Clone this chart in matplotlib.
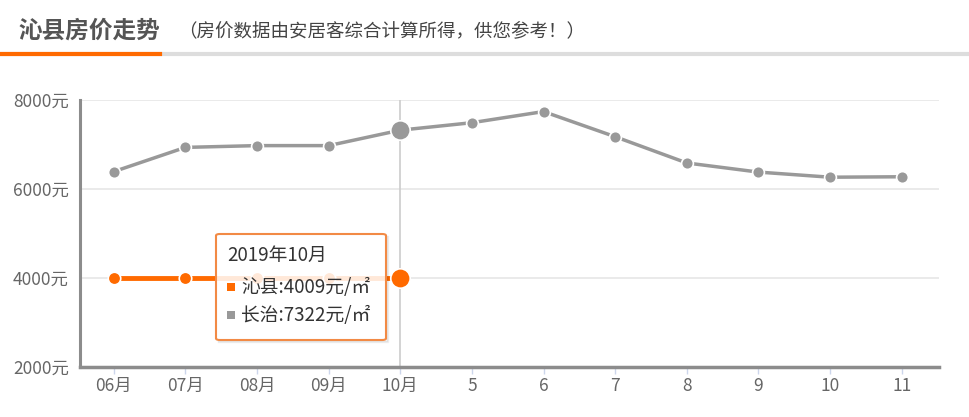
import matplotlib
matplotlib.use("Agg")
import matplotlib.pyplot as plt
from matplotlib.patches import FancyBboxPatch, Rectangle
from matplotlib.lines import Line2D

plt.rcParams['font.family'] = ['Noto Sans CJK SC', 'DejaVu Sans']

# ---- data ----
categories = ["06月", "07月", "08月", "09月", "10月", "5", "6", "7", "8", "9", "10", "11"]
qinxian = [4009, 4009, 4009, 4009, 4009, None, None, None, None, None, None, None]
changzhi = [6390, 6935, 6975, 6975, 7322, 7490, 7740, 7175, 6585, 6380, 6265, 6275]
y_ticks = [2000, 4000, 6000, 8000]
y_tick_labels = ["2000元", "4000元", "6000元", "8000元"]
title = "沁县房价走势"
subtitle = "（房价数据由安居客综合计算所得，供您参考！）"
tooltip_title = "2019年10月"
tooltip_rows = ["沁县:4009元/㎡", "长治:7322元/㎡"]
hover_index = 4

W, H = 970, 417
fig = plt.figure(figsize=(W / 100, H / 100), dpi=100)
fig.patch.set_facecolor("white")


def fx(x):
    return x / W


def fy(y):
    return 1 - y / H


ORANGE = "#ff6a00"
GRAY = "#999999"

ax = fig.add_axes([fx(80), fy(367), fx(939) - fx(80), fy(100) - fy(367)])
ax.set_facecolor("white")
ax.set_xlim(-0.47, 11.52)
ax.set_ylim(2000, 8000)

xs = list(range(len(categories)))

# grid
for v in y_ticks[1:]:
    ax.axhline(v, color="#e6e6e6", lw=1.2, zorder=0)

# crosshair
ax.axvline(hover_index, color="#cccccc", lw=1.2, zorder=1)

# series
ax.plot(xs, changzhi, color=GRAY, lw=2.5, marker="o", ms=8.5, mfc=GRAY, mec="white", mew=1.2, zorder=3)
qx = [(x, v) for x, v in zip(xs, qinxian) if v is not None]
ax.plot([p[0] for p in qx], [p[1] for p in qx], color=ORANGE, lw=3.5, marker="o", ms=9, mfc=ORANGE, mec="white", mew=1.2, zorder=4)

# hover markers
ax.plot([hover_index], [changzhi[hover_index]], marker="o", ms=14, color=GRAY, mec="white", mew=1.2, zorder=5)
ax.plot([hover_index], [qinxian[hover_index]], marker="o", ms=14, color=ORANGE, mec="white", mew=1.2, zorder=5)

# axes styling
for s in ["top", "right"]:
    ax.spines[s].set_visible(False)
ax.spines["left"].set_color("#8c8c8c")
ax.spines["left"].set_linewidth(2.2)
ax.spines["bottom"].set_color("#8c8c8c")
ax.spines["bottom"].set_linewidth(2.5)

ax.set_xticks(xs)
ax.set_xticklabels(categories, fontsize=12.5, color="#666666")
ax.tick_params(axis="x", length=5, width=1, color="#ccd6eb", pad=2)
ax.set_yticks(y_ticks)
ax.set_yticklabels(y_tick_labels, fontsize=12.5, color="#666666")
ax.tick_params(axis="y", length=0, pad=8)

# title
fig.text(fx(19), fy(31), title, fontsize=17, fontweight="bold", color="#555555", va="center", ha="left")
fig.text(fx(178), fy(31), subtitle, fontsize=13.3, color="#444444", va="center", ha="left")
fig.add_artist(Line2D([0, fx(970)], [fy(53.5), fy(53.5)], color="#dddddd", lw=3, transform=fig.transFigure))
fig.add_artist(Line2D([0, fx(160)], [fy(53.5), fy(53.5)], color="#ff6a00", lw=3, transform=fig.transFigure, zorder=3))

# tooltip
for k, a in [(1, 0.10), (2, 0.06)]:
    fig.add_artist(Line2D([fx(218), fx(386 + k), fx(386 + k)], [fy(340 + k), fy(340 + k), fy(236)],
                          color="black", alpha=a, lw=1, transform=fig.transFigure, zorder=5))
box = FancyBboxPatch((fx(216), fy(340)), fx(386) - fx(216), fy(234) - fy(340),
                     boxstyle="round,pad=0,rounding_size=0.004", transform=fig.transFigure,
                     facecolor=(1, 1, 1, 0.85), edgecolor="#f28a45", lw=1.5, zorder=6)
fig.add_artist(box)
fig.text(fx(227), fy(255), tooltip_title, fontsize=13.5, color="#333333", va="center", ha="left", zorder=7)
sq_colors = [ORANGE, GRAY]
for i, (row, c) in enumerate(zip(tooltip_rows, sq_colors)):
    yy = 287 + i * 28
    fig.add_artist(Rectangle((fx(227), fy(yy + 4)), fx(8), fy(0) - fy(8), transform=fig.transFigure,
                             facecolor=c, edgecolor="none", zorder=7))
    fig.text(fx(241), fy(yy), row, fontsize=13.5, color="#333333", va="center", ha="left", zorder=7)

fig.savefig("out.png", dpi=100)
